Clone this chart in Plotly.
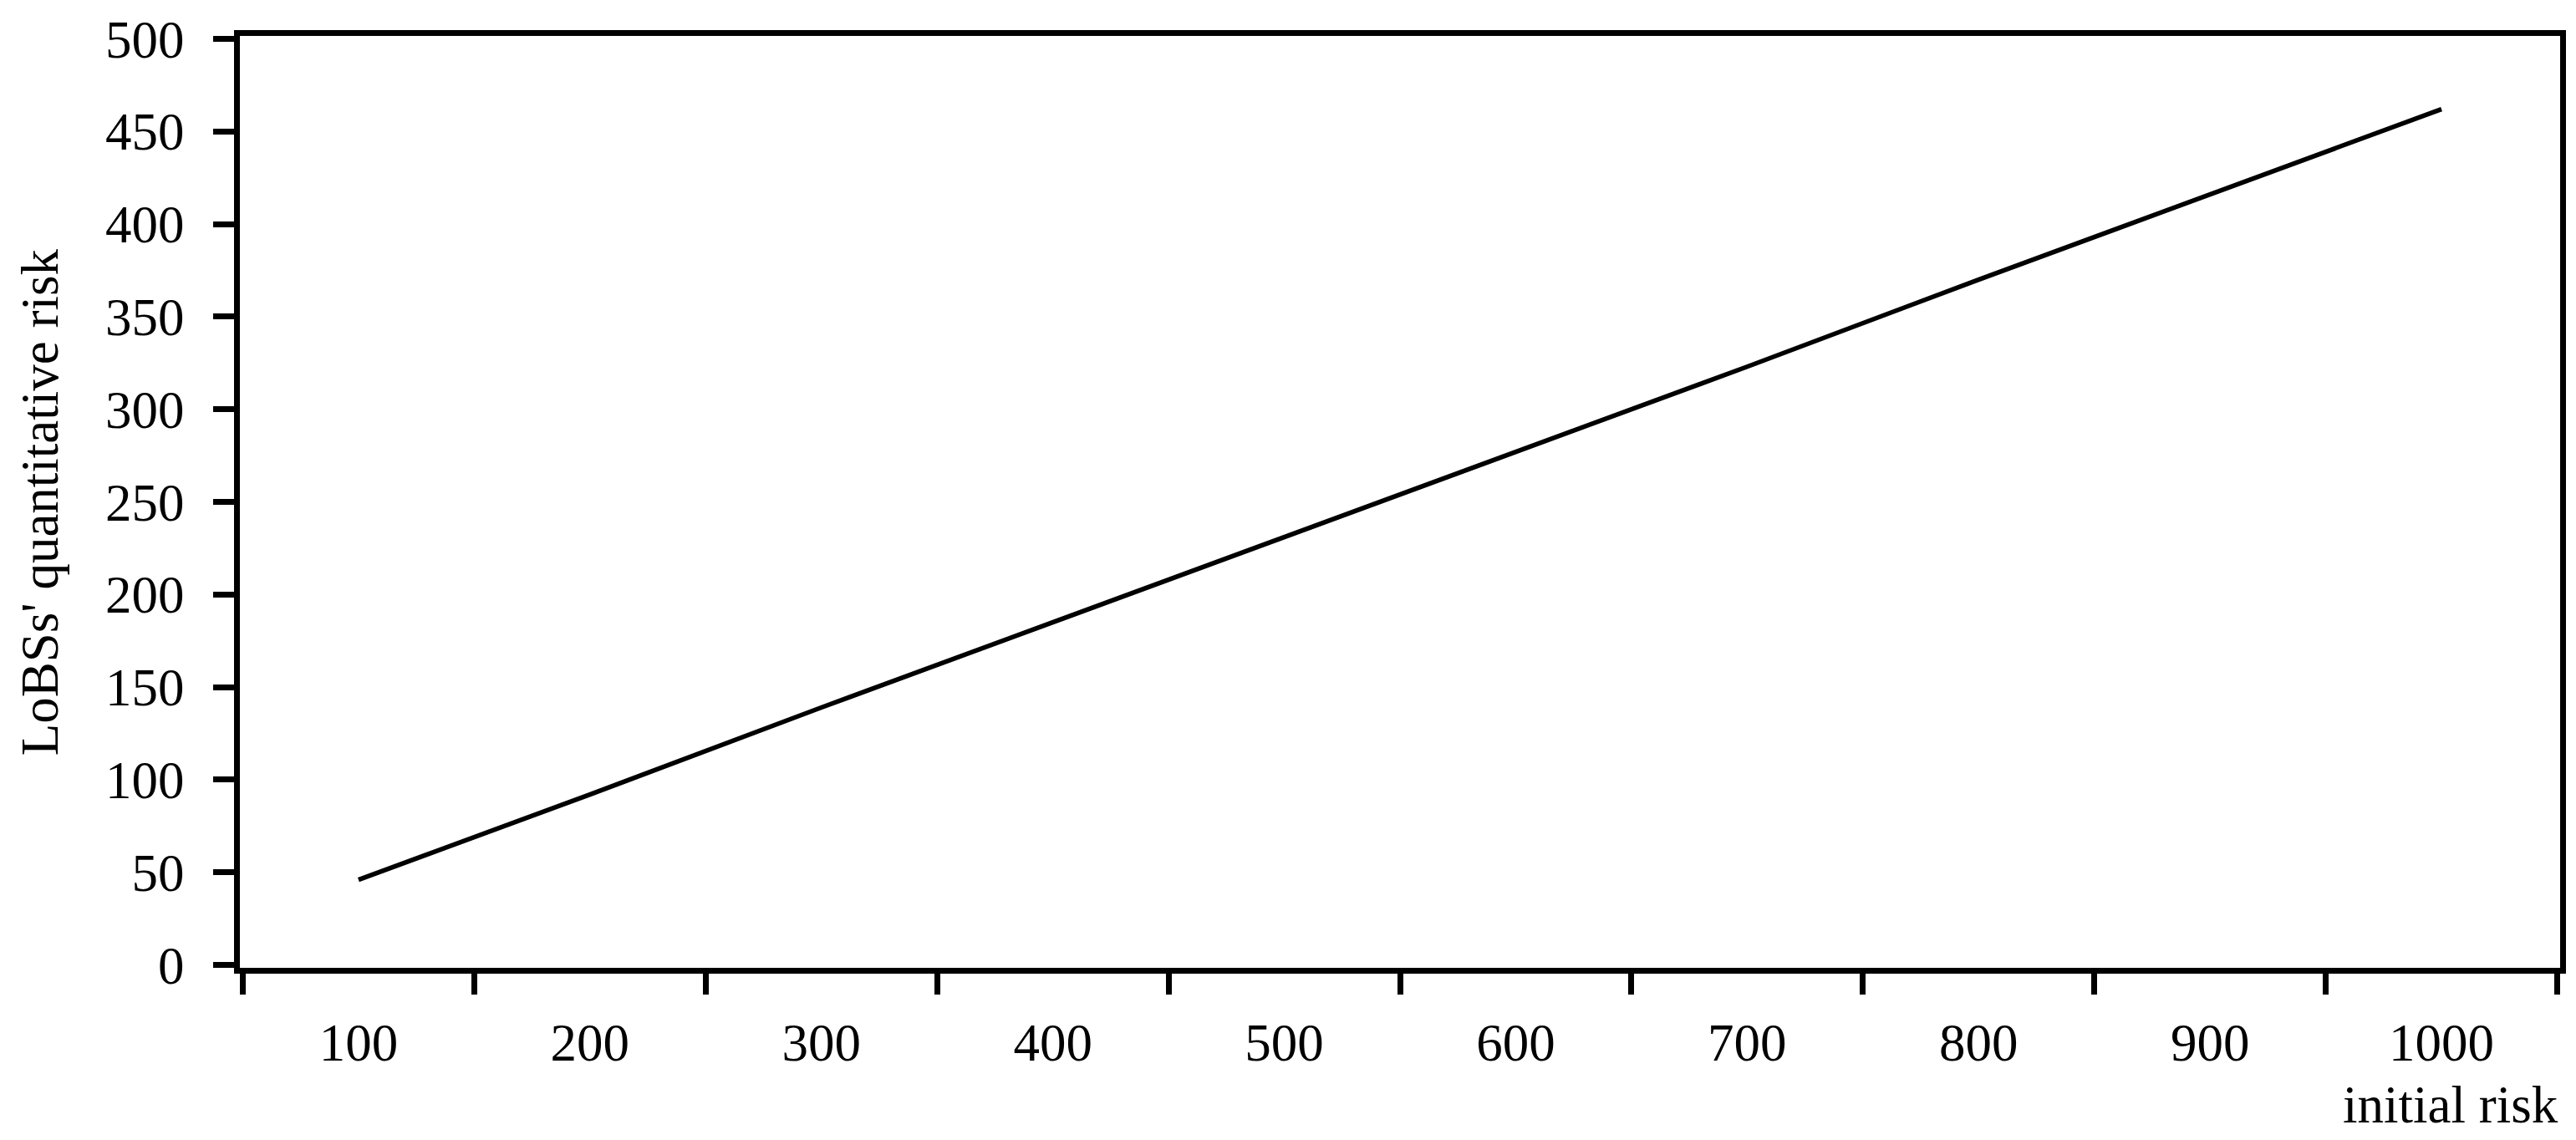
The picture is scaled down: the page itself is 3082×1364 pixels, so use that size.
import plotly.graph_objects as go

categories = ["100", "200", "300", "400", "500", "600", "700", "800", "900", "1000"]
quantitative_risk = [46, 92, 139, 185, 231, 277, 323, 370, 416, 462]
y_ticks = [0, 50, 100, 150, 200, 250, 300, 350, 400, 450, 500]

FONT = "Liberation Serif, Times New Roman, serif"
FS = 63

fig = go.Figure()
fig.add_trace(go.Scatter(
    x=categories, y=quantitative_risk, mode="lines",
    line=dict(color="black", width=5.5), showlegend=False,
))

W, H = 3082, 1364
L, R, T, B = 286.5, 16.5, 40.5, 206
LW = 7

fig.update_layout(
    width=W, height=H,
    margin=dict(l=L, r=R, t=T, b=B, pad=0),
    paper_bgcolor="white", plot_bgcolor="white",
    font=dict(family=FONT, size=FS, color="black"),
    xaxis=dict(
        type="category", tickson="boundaries",
        showline=True, linecolor="black", linewidth=LW, mirror=True,
        ticks="outside", ticklen=25, tickwidth=LW, tickcolor="black",
        showgrid=False, zeroline=False,
        ticklabelstandoff=28,
        tickfont=dict(family=FONT, size=FS, color="black"),
        range=[-0.5126, 9.5126],
    ),
    yaxis=dict(
        range=[-1.556, 501.556], tickvals=y_ticks,
        showline=True, linecolor="black", linewidth=LW, mirror=True,
        ticks="outside", ticklen=25, tickwidth=LW, tickcolor="black",
        showgrid=False, zeroline=False,
        ticklabelstandoff=22,
        tickfont=dict(family=FONT, size=FS, color="black"),
    ),
    annotations=[
        dict(text="initial risk", xref="paper", yref="paper",
             x=1.0, y=(1158 - 1322) / 1117.5, xanchor="right", yanchor="middle",
             showarrow=False, font=dict(family=FONT, size=FS, color="black")),
        dict(text="LoBSs' quantitative risk", xref="paper", yref="paper",
             x=(47 - 286.5) / 2779, y=0.5, xanchor="center", yanchor="middle",
             textangle=-90, showarrow=False,
             font=dict(family=FONT, size=FS, color="black")),
    ],
)

fig.write_html(
    "out.html",
    config={"displayModeBar": False},
    post_script="document.body.style.margin='0';document.body.style.overflow='hidden';",
)
